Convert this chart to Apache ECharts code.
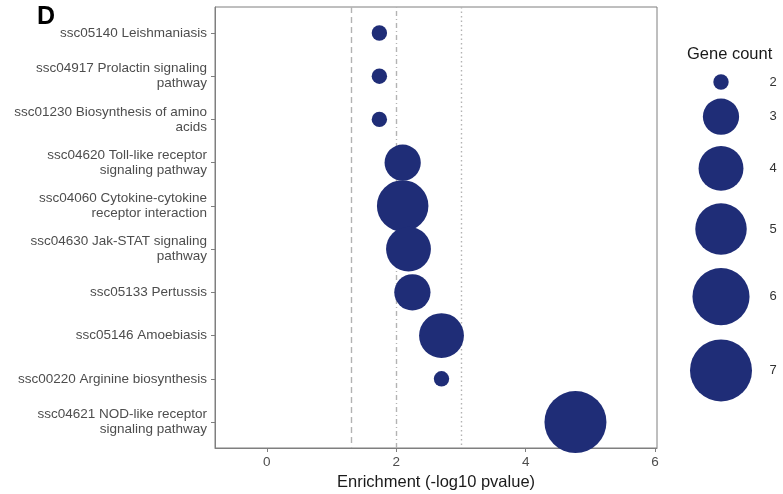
<!DOCTYPE html>
<html>
<head>
<meta charset="utf-8">
<script src="https://cdn.jsdelivr.net/npm/echarts@6/dist/echarts.min.js"></script>
<style>
  html, body { margin: 0; padding: 0; background: #fff; }
  #chart { width: 783px; height: 494px; }
</style>
</head>
<body>
<div id="chart"></div>
<script>
// pathways listed top to bottom
const pathways = [
  "ssc05140 Leishmaniasis",
  "ssc04917 Prolactin signaling\npathway",
  "ssc01230 Biosynthesis of amino\nacids",
  "ssc04620 Toll-like receptor\nsignaling pathway",
  "ssc04060 Cytokine-cytokine\nreceptor interaction",
  "ssc04630 Jak-STAT signaling\npathway",
  "ssc05133 Pertussis",
  "ssc05146 Amoebiasis",
  "ssc00220 Arginine biosynthesis",
  "ssc04621 NOD-like receptor\nsignaling pathway",
];
const enrichment = [1.74, 1.74, 1.74, 2.1, 2.1, 2.19, 2.25, 2.7, 2.7, 4.77];
const geneCount = [2, 2, 2, 3, 5, 4, 3, 4, 2, 7];
const legendCounts = [2, 3, 4, 5, 6, 7];
const xTicks = [0, 2, 4, 6];
const thresholds = [1.3, 2, 3]; // p = 0.05, 0.01, 0.001

const NAVY = "#1f2d77";
const AXIS_GREY = "#7f7f7f";
const TEXT_GREY = "#4d4d4d";

// ggplot-like area scale: diameter grows with sqrt of the rescaled count
function bubbleSize(v) {
  const t = (v - 2) / 5;
  return 15.4 + 46.6 * Math.sqrt(Math.max(t, 0));
}

// stack legend keys, each key a bit taller than its circle
const legendPos = [];
legendCounts.forEach((c, i) => {
  if (i === 0) {
    legendPos.push(0);
  } else {
    const prev = legendCounts[i - 1];
    const gap = 1.16 * (bubbleSize(prev) + bubbleSize(c)) / 2 + 4.7;
    legendPos.push(legendPos[i - 1] + gap);
  }
});

const chart = echarts.init(document.getElementById("chart"));

chart.setOption({
  animation: false,
  textStyle: { fontFamily: "Liberation Sans, Arial, sans-serif" },
  title: [
    {
      text: "D",
      left: 32,
      top: 0,
      textStyle: { fontSize: 25, fontWeight: "bold", color: "#000" },
    },
    {
      text: "Gene count",
      left: 682,
      top: 41,
      textStyle: { fontSize: 16.5, fontWeight: "normal", color: "#1a1a1a" },
    },
  ],
  grid: [
    {
      left: 215,
      right: 126,
      top: 7,
      bottom: 46,
      outerBoundsMode: "none",
      show: true,
      borderColor: AXIS_GREY,
      borderWidth: 1,
      backgroundColor: "#fff",
    },
    { left: 690, width: 62, top: 82, height: 300, outerBoundsMode: "none" },
  ],
  xAxis: [
    {
      gridIndex: 0,
      type: "value",
      min: -0.8,
      max: 6.03,
      name: "Enrichment (-log10 pvalue)",
      nameLocation: "middle",
      nameGap: 24,
      nameTextStyle: { fontSize: 16.5, color: "#1a1a1a" },
      axisLine: { show: true, onZero: false, lineStyle: { color: AXIS_GREY } },
      axisTick: {
        show: true,
        length: 4,
        customValues: xTicks,
        lineStyle: { color: AXIS_GREY },
      },
      axisLabel: {
        customValues: xTicks,
        fontSize: 13.5,
        color: TEXT_GREY,
        margin: 7,
      },
      splitLine: { show: false },
    },
    { gridIndex: 1, type: "value", min: -1, max: 1, show: false },
  ],
  yAxis: [
    {
      gridIndex: 0,
      type: "value",
      min: -0.6,
      max: 9.6,
      inverse: true,
      axisLine: { show: true, onZero: false, lineStyle: { color: AXIS_GREY } },
      axisTick: {
        show: true,
        length: 4,
        customValues: pathways.map((_, i) => i),
        lineStyle: { color: AXIS_GREY },
      },
      axisLabel: {
        customValues: pathways.map((_, i) => i),
        formatter: (v) => pathways[Math.round(v)] || "",
        fontSize: 13.5,
        lineHeight: 15,
        color: TEXT_GREY,
        align: "right",
        margin: 8,
      },
      splitLine: { show: false },
    },
    { gridIndex: 1, type: "value", min: 0, max: 300, inverse: true, show: false },
  ],
  series: [
    {
      // threshold guides, kept under the bubbles
      type: "scatter",
      xAxisIndex: 0,
      yAxisIndex: 0,
      data: [],
      markLine: {
        silent: true,
        symbol: "none",
        label: { show: false },
        data: [
          { xAxis: thresholds[0], lineStyle: { type: [6, 4] } },
          { xAxis: thresholds[1], lineStyle: { type: [1, 3, 5, 3] } },
          { xAxis: thresholds[2], lineStyle: { type: [1.5, 3] } },
        ],
        lineStyle: { color: "#b3b3b3", width: 1.4 },
      },
    },
    {
      type: "scatter",
      xAxisIndex: 0,
      yAxisIndex: 0,
      zlevel: 1,
      data: pathways.map((_, i) => [enrichment[i], i, geneCount[i]]),
      symbolSize: (d) => bubbleSize(d[2]),
      itemStyle: { color: NAVY, opacity: 1 },
    },
    {
      // size legend
      type: "scatter",
      xAxisIndex: 1,
      yAxisIndex: 1,
      data: legendCounts.map((c, i) => [0, legendPos[i], c]),
      symbolSize: (d) => bubbleSize(d[2]),
      itemStyle: { color: NAVY, opacity: 1 },
      label: {
        show: true,
        position: "inside",
        offset: [52, 0],
        formatter: (p) => String(p.value[2]),
        fontSize: 13,
        color: "#333",
      },
    },
  ],
});
</script>
</body>
</html>
